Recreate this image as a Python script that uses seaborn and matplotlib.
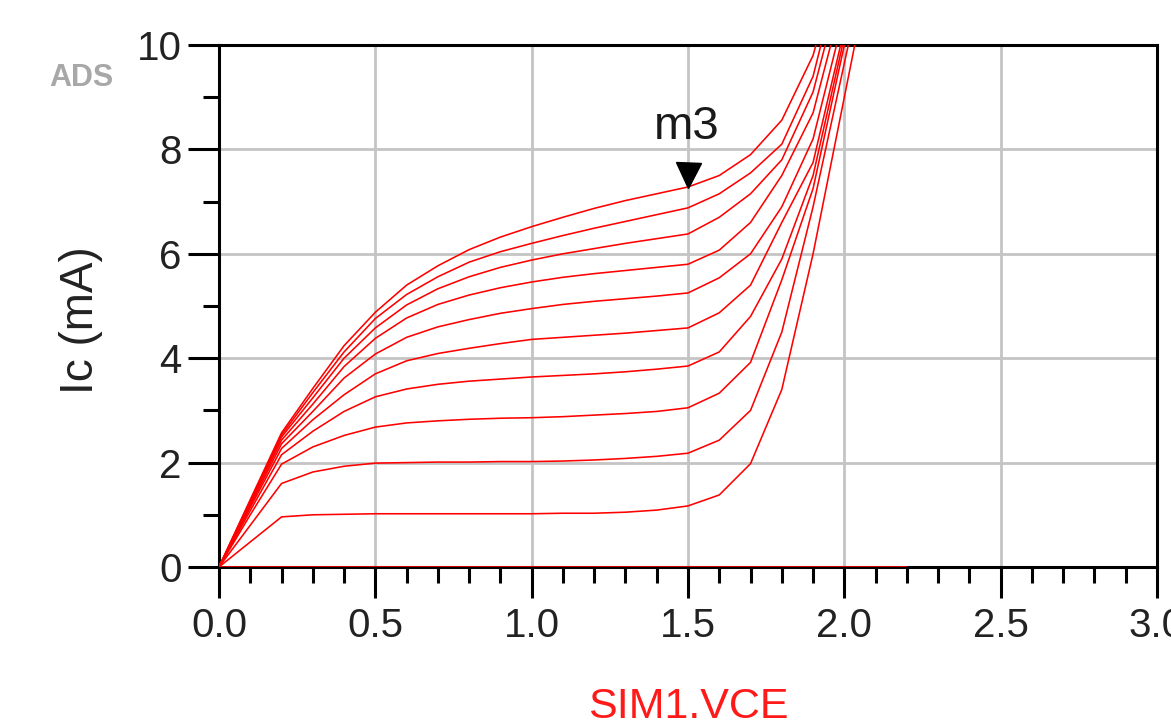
import numpy as np
import pandas as pd
import matplotlib
matplotlib.use("Agg")
import matplotlib.pyplot as plt
import matplotlib.transforms as mtransforms
from matplotlib.ticker import MultipleLocator
import seaborn as sns

# ---------------- data ----------------
vce = [0.0, 0.1, 0.2, 0.3, 0.4, 0.5, 0.6, 0.7, 0.8, 0.9, 1.0, 1.1,
       1.2, 1.3, 1.4, 1.5, 1.6, 1.7, 1.8, 1.9, 2.0, 2.1, 2.2]

ic0 = [0.0] * 23
ic1 = [0, 0.48, 0.96, 1.00, 1.01, 1.02, 1.02, 1.02, 1.02, 1.02, 1.02, 1.03,
       1.03, 1.05, 1.09, 1.17, 1.38, 1.98, 3.4, 6.0, 9.0, 12.0, 15.0]
ic2 = [0, 0.80, 1.60, 1.82, 1.93, 1.99, 2.00, 2.01, 2.01, 2.02, 2.02, 2.03,
       2.05, 2.08, 2.12, 2.18, 2.43, 3.00, 4.5, 6.9, 9.65, 12.4, 15.2]
ic3 = [0, 1.00, 1.97, 2.30, 2.52, 2.68, 2.76, 2.80, 2.83, 2.85, 2.86, 2.88,
       2.91, 2.94, 2.98, 3.05, 3.33, 3.92, 5.5, 7.25, 10.0, 12.7, 15.4]
ic4 = [0, 1.08, 2.15, 2.60, 2.98, 3.26, 3.41, 3.50, 3.56, 3.60, 3.64, 3.67,
       3.70, 3.74, 3.79, 3.85, 4.12, 4.80, 5.9, 7.5, 10.15, 12.9, 15.6]
ic5 = [0, 1.14, 2.27, 2.82, 3.30, 3.70, 3.95, 4.09, 4.19, 4.28, 4.36, 4.40,
       4.44, 4.48, 4.53, 4.58, 4.87, 5.40, 6.6, 7.75, 10.3, 13.0, 15.8]
ic6 = [0, 1.18, 2.36, 2.98, 3.62, 4.08, 4.40, 4.60, 4.74, 4.86, 4.95, 5.03,
       5.09, 5.14, 5.19, 5.25, 5.54, 6.00, 6.9, 8.2, 10.6, 13.3, 16.0]
ic7 = [0, 1.22, 2.43, 3.12, 3.84, 4.38, 4.77, 5.03, 5.21, 5.35, 5.46, 5.55,
       5.62, 5.68, 5.74, 5.80, 6.07, 6.60, 7.5, 8.7, 11.0, 13.7, 16.4]
ic8 = [0, 1.25, 2.49, 3.24, 4.00, 4.58, 5.02, 5.33, 5.56, 5.74, 5.88, 6.00,
       6.10, 6.20, 6.29, 6.38, 6.70, 7.15, 7.8, 9.1, 11.4, 14.0, 16.6]
ic9 = [0, 1.27, 2.53, 3.34, 4.12, 4.76, 5.22, 5.56, 5.84, 6.04, 6.20, 6.35,
       6.49, 6.62, 6.75, 6.88, 7.15, 7.55, 8.1, 9.4, 11.8, 14.4, 17.0]
ic10 = [0, 1.29, 2.57, 3.42, 4.24, 4.88, 5.40, 5.77, 6.08, 6.32, 6.52, 6.70,
        6.87, 7.02, 7.15, 7.28, 7.50, 7.90, 8.56, 9.8, 12.0, 14.6, 17.2]

curves = [ic0, ic1, ic2, ic3, ic4, ic5, ic6, ic7, ic8, ic9, ic10]

marker_name = "m3"
marker_v = 1.5
marker_curve = 10

x_ticks = [0.0, 0.5, 1.0, 1.5, 2.0, 2.5, 3.0]
x_labels = ["0.0", "0.5", "1.0", "1.5", "2.0", "2.5", "3.0"]
y_ticks = [0, 2, 4, 6, 8, 10]
y_labels = ["0", "2", "4", "6", "8", "10"]
x_title = "SIM1.VCE"
y_title = "Ic (mA)"
corner_text = "ADS"

# ---------------- build frame ----------------
rows = []
for k, ic in enumerate(curves):
    for v, i in zip(vce, ic):
        rows.append({"VCE": v, "Ic": i, "curve": k})
df = pd.DataFrame(rows)

sns.set_style("white")
plt.rcParams["font.family"] = ["Liberation Sans", "DejaVu Sans"]

fig = plt.figure(figsize=(11.71, 7.25), dpi=100)
ax = fig.add_axes([219 / 1171, 158 / 725, 938 / 1171, 522 / 725])

red = "#ff0000"
sns.lineplot(data=df, x="VCE", y="Ic", hue="curve", units="curve",
             estimator=None, palette=[red] * len(curves), legend=False,
             linewidth=1.15, ax=ax, zorder=3, sort=False)

ax.set_xlim(0, 3.0)
ax.set_ylim(0, 10)

ax.set_xticks(x_ticks)
ax.set_xticklabels(x_labels)
ax.set_yticks(y_ticks)
ax.set_yticklabels(y_labels)
ax.xaxis.set_minor_locator(MultipleLocator(0.1))
ax.yaxis.set_minor_locator(MultipleLocator(1))

ax.grid(True, which="major", color="#c4c4c4", linewidth=2.0, zorder=0)
ax.set_axisbelow(True)

for s in ax.spines.values():
    s.set_visible(True)
    s.set_color("black")
    s.set_linewidth(2.2)

ax.tick_params(axis="both", which="major", direction="out", length=22,
               width=2.2, color="black", labelsize=29, labelcolor="#222222")
ax.tick_params(axis="both", which="minor", direction="out", length=11.5,
               width=2.2, color="black")
ax.tick_params(axis="x", which="major", pad=7)
ax.tick_params(axis="y", which="major", pad=5)
ax.tick_params(bottom=True, left=True, top=False, right=False, which="both")

ax.set_xlabel(x_title, color="#ff1a1a", fontsize=31)
ax.xaxis.set_label_coords(0.5, -0.23)
ax.set_ylabel(y_title, color="#222222", fontsize=33)
ax.yaxis.set_label_coords(-0.124, 0.473)

# marker m3
mi = vce.index(marker_v)
my = curves[marker_curve][mi]
tri_tr = mtransforms.offset_copy(ax.transData, fig=fig, x=0, y=8.5, units="points")
ax.plot([marker_v], [my], marker="v", color="black", markersize=18,
        transform=tri_tr, zorder=5, clip_on=False)
ax.annotate(marker_name, xy=(marker_v, my), xytext=(-1, 43),
            textcoords="offset points", ha="center", va="center",
            fontsize=34, color="#1a1a1a", zorder=6)

fig.text(81 / 1171, 1 - 78 / 725, corner_text, fontsize=22, color="#a8a8a8",
         ha="center", va="center", fontweight="bold")

fig.savefig("out.png", dpi=100)
